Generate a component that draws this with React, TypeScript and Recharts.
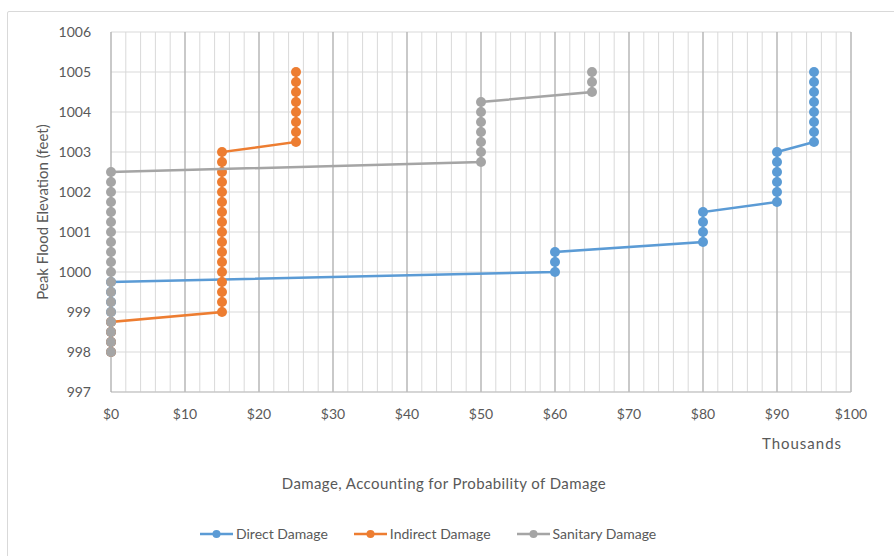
import React from "react"
import { ScatterChart, Scatter, XAxis, YAxis, CartesianGrid, ReferenceLine, Legend } from "recharts"

// elevations in feet, damage in thousands of dollars
const elevations = [
  998, 998.25, 998.5, 998.75, 999, 999.25, 999.5, 999.75,
  1000, 1000.25, 1000.5, 1000.75, 1001, 1001.25, 1001.5, 1001.75,
  1002, 1002.25, 1002.5, 1002.75, 1003, 1003.25, 1003.5, 1003.75,
  1004, 1004.25, 1004.5, 1004.75, 1005,
]

const directDamage = [
  0, 0, 0, 0, 0, 0, 0, 0,
  60, 60, 60, 80, 80, 80, 80, 90,
  90, 90, 90, 90, 90, 95, 95, 95,
  95, 95, 95, 95, 95,
]

const indirectDamage = [
  0, 0, 0, 0, 15, 15, 15, 15,
  15, 15, 15, 15, 15, 15, 15, 15,
  15, 15, 15, 15, 15, 25, 25, 25,
  25, 25, 25, 25, 25,
]

const sanitaryDamage = [
  0, 0, 0, 0, 0, 0, 0, 0,
  0, 0, 0, 0, 0, 0, 0, 0,
  0, 0, 0, 50, 50, 50, 50, 50,
  50, 50, 65, 65, 65,
]

const xTicks = [0, 2, 4, 6, 8, 10, 12, 14, 16, 18, 20, 22, 24, 26, 28, 30, 32, 34, 36, 38, 40, 42, 44, 46, 48, 50, 52, 54, 56, 58, 60, 62, 64, 66, 68, 70, 72, 74, 76, 78, 80, 82, 84, 86, 88, 90, 92, 94, 96, 98, 100]
const majorX = [10, 20, 30, 40, 50, 60, 70, 80, 90, 100]
const yTicks = [997, 998, 999, 1000, 1001, 1002, 1003, 1004, 1005, 1006]

const series = [
  { name: "Direct Damage", color: "#5B9BD5", values: directDamage },
  { name: "Indirect Damage", color: "#ED7D31", values: indirectDamage },
  { name: "Sanitary Damage", color: "#A5A5A5", values: sanitaryDamage },
]

const font = "Lato, 'Open Sans', sans-serif"
const textColor = "#595959"

const XTitle = (props: any) => {
  const vb = props.viewBox || {}
  return (
    <g>
      <text x={vb.x + vb.width - 49} y={vb.y + 57} textAnchor="middle" fill={textColor} fontSize={15} letterSpacing={1} fontFamily={font}>
        Thousands
      </text>
      <text x={vb.x + vb.width / 2 - 37} y={vb.y + 97} textAnchor="middle" fill={textColor} fontSize={15} letterSpacing={0.4} fontFamily={font}>
        Damage, Accounting for Probability of Damage
      </text>
    </g>
  )
}

const LegendContent = () => (
  <div style={{ display: "flex", justifyContent: "flex-start", paddingLeft: 200, gap: 26, fontFamily: font, fontSize: 14, color: textColor }}>
    {series.map((s) => (
      <div key={s.name} style={{ display: "flex", alignItems: "center" }}>
        <svg width={33} height={12} style={{ marginRight: 3 }}>
          <line x1={0} y1={6} x2={33} y2={6} stroke={s.color} strokeWidth={2.5} />
          <circle cx={16.5} cy={6} r={4} fill={s.color} />
        </svg>
        <span>{s.name}</span>
      </div>
    ))}
  </div>
)

export default function App() {
  const data = series.map((s) => s.values.map((v, i) => ({ x: v, y: elevations[i] })))

  return (
    <div style={{ position: "absolute", left: 0, top: 0, width: 894, height: 556, overflow: "hidden", background: "#fff" }}>
      <div style={{ position: "absolute", left: 7, top: 11, width: 1000, height: 1000, border: "1px solid #D9D9D9", borderRadius: 2 }} />
      <ScatterChart width={894} height={556} margin={{ top: 32, right: 43, left: 41, bottom: 134 }}>
        <CartesianGrid stroke="#D9D9D9" strokeWidth={1} />
        {majorX.map((v) => (
          <ReferenceLine key={v} x={v} stroke="#A6A6A6" strokeWidth={1} />
        ))}
        <XAxis
          type="number"
          dataKey="x"
          domain={[0, 100]}
          ticks={xTicks}
          interval={0}
          tickLine={false}
          axisLine={{ stroke: "#BFBFBF" }}
          height={30}
          tick={{ fill: textColor, fontSize: 14, fontFamily: font }}
          tickFormatter={(v: number) => (v % 10 === 0 ? `$${v}` : "")}
          tickMargin={11}
          label={<XTitle />}
        />
        <YAxis
          type="number"
          dataKey="y"
          domain={[997, 1006]}
          ticks={yTicks}
          interval={0}
          tickLine={false}
          axisLine={{ stroke: "#A6A6A6" }}
          width={70}
          tick={{ fill: textColor, fontSize: 14, fontFamily: font }}
          tickMargin={14}
          label={{ value: "Peak Flood Elevation (feet)", angle: -90, position: "insideLeft", offset: 0, dx: 2, style: { textAnchor: "middle", fill: textColor, fontSize: 15, fontFamily: font } }}
        />
        <Legend
          layout="horizontal"
          verticalAlign="middle"
          align="center"
          content={<LegendContent />}
          wrapperStyle={{ top: 525, left: 0, width: 894 }}
        />
        {series.map((s, i) => (
          <Scatter
            key={s.name}
            name={s.name}
            data={data[i]}
            fill={s.color}
            line={{ stroke: s.color, strokeWidth: 2.5 }}
            lineType="joint"
            shape={(p: any) => <circle cx={p.cx} cy={p.cy} r={5} fill={s.color} />}
            isAnimationActive={false}
          />
        ))}
      </ScatterChart>
    </div>
  )
}
